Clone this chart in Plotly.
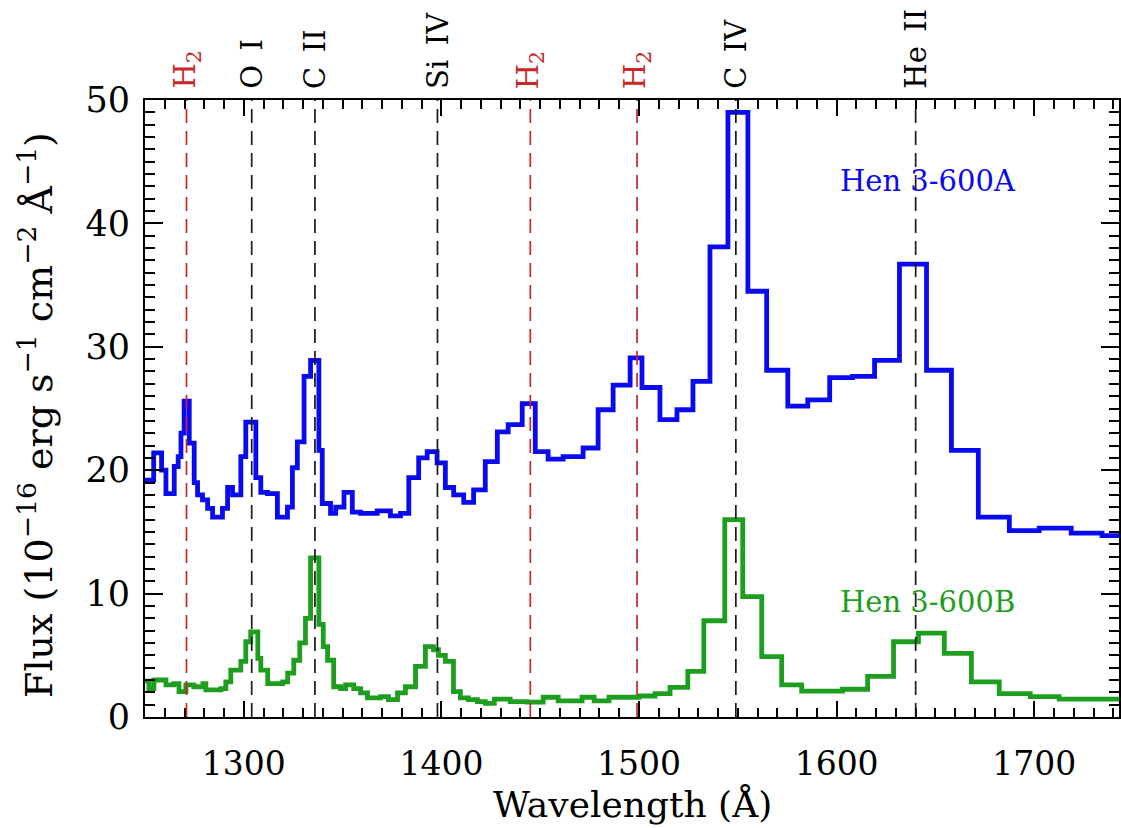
import plotly.graph_objects as go

# ---- data ----
blue_edges = [1250, 1254.4, 1258.4, 1260.6, 1264.8, 1266.8, 1268.2, 1269.8, 1272.4, 1274.9,
              1276.6, 1279.1, 1281.7, 1284.2, 1289.2, 1291.8, 1294.3, 1298.5, 1301.0, 1306.1,
              1308.6, 1312.0, 1317.0, 1322.1, 1324.6, 1327.1, 1330.5, 1333.8, 1338.0, 1339.7,
              1343.9, 1346.5, 1350.7, 1354.9, 1359.1, 1367.5, 1374.2, 1379.3, 1383.5, 1388.5,
              1392.8, 1397.8, 1402.0, 1406.2, 1411.3, 1416.3, 1422.2, 1428.3, 1433.8, 1440.9,
              1447.5, 1454.0, 1461.6, 1471.7, 1479.3, 1486.9, 1495.5, 1501.5, 1510.6, 1519.2,
              1527.3, 1535.9, 1545.0, 1555.1, 1564.6, 1575.3, 1585.4, 1596.5, 1608.1, 1619.2,
              1631.8, 1645.5, 1658.1, 1671.7, 1687.4, 1702.5, 1718.7, 1734.3, 1750]
blue_flux = [19.2, 21.4, 20.0, 18.1, 20.3, 21.1, 23.0, 25.6, 22.2, 19.0,
             18.0, 17.6, 16.9, 16.2, 16.9, 18.6, 18.0, 21.1, 23.9, 19.4,
             18.2, 18.1, 16.2, 17.0, 20.2, 22.3, 27.6, 28.9, 21.6, 17.3,
             16.5, 17.0, 18.2, 16.6, 16.5, 16.7, 16.3, 16.5, 19.4, 21.0,
             21.5, 20.6, 18.6, 18.0, 17.4, 18.4, 20.7, 23.1, 23.7, 25.4,
             21.5, 20.9, 21.1, 21.8, 24.9, 26.9, 29.1, 26.7, 24.1, 24.9,
             27.2, 38.1, 49.0, 34.5, 28.1, 25.2, 25.7, 27.5, 27.6, 28.9,
             36.7, 28.1, 21.6, 16.2, 15.1, 15.3, 14.9, 14.7]

green_edges = [1250, 1252.0, 1254.5, 1260.6, 1264.6, 1267.2, 1270.7, 1274.7, 1279.3, 1280.8,
               1288.4, 1290.9, 1293.4, 1298.5, 1301.0, 1303.5, 1307.1, 1308.6, 1312.1, 1319.7,
               1322.2, 1325.3, 1328.3, 1331.2, 1333.8, 1338.0, 1340.2, 1342.4, 1345.5, 1349.0,
               1351.5, 1355.6, 1359.1, 1362.6, 1369.2, 1373.2, 1377.8, 1381.8, 1386.9, 1391.9,
               1396.0, 1398.5, 1402.0, 1406.1, 1409.6, 1413.6, 1418.2, 1422.2, 1426.8, 1434.8,
               1443.4, 1451.5, 1459.1, 1465.2, 1471.2, 1477.3, 1484.8, 1492.4, 1500.0, 1508.1,
               1515.7, 1524.7, 1532.8, 1543.4, 1552.5, 1562.1, 1572.2, 1582.3, 1592.4, 1603.0,
               1615.7, 1628.8, 1641.4, 1654.5, 1668.2, 1682.3, 1698.0, 1712.6, 1727.8, 1750]
green_flux = [2.9, 2.3, 3.0, 2.6, 2.7, 2.05, 2.6, 2.45, 2.7, 2.2,
              2.3, 2.85, 3.8, 4.5, 6.1, 6.9, 4.75, 3.8, 2.7, 2.85,
              3.55, 4.6, 6.0, 8.0, 12.9, 7.5, 5.7, 4.6, 2.45, 2.3,
              2.6, 2.3, 1.95, 1.55, 1.65, 1.4, 1.95, 2.45, 4.1, 5.7,
              5.45, 5.0, 4.5, 2.05, 1.55, 1.4, 1.25, 1.1, 1.45, 1.25,
              1.2, 1.6, 1.3, 1.3, 1.6, 1.3, 1.6, 1.6, 1.7, 1.9,
              2.4, 3.7, 7.8, 16.0, 9.75, 4.9, 2.6, 2.1, 2.1, 2.25,
              3.3, 6.1, 6.8, 5.15, 2.85, 1.9, 1.65, 1.45, 1.45]

line_waves = [1271, 1304, 1336, 1398, 1445, 1499, 1549, 1640]
line_labels = ["H<sub>2</sub>", "O I", "C II", "Si IV", "H<sub>2</sub>", "H<sub>2</sub>", "C IV", "He II"]
line_is_h2 = [True, False, False, False, True, True, False, False]

series_names = ["Hen 3-600A", "Hen 3-600B"]

# ---- styling ----
FONT = "DejaVu Serif"
BLUE = "#0a0af0"
GREEN = "#1e9e1e"
RED = "#c82828"

fig = go.Figure()
fig.add_trace(go.Scatter(x=blue_edges, y=blue_flux + [blue_flux[-1]], mode="lines",
                         line=dict(color=BLUE, width=4.8, shape="hv"), name=series_names[0]))
fig.add_trace(go.Scatter(x=green_edges, y=green_flux + [green_flux[-1]], mode="lines",
                         line=dict(color=GREEN, width=4.8, shape="hv"), name=series_names[1]))

for w, lab, h2 in zip(line_waves, line_labels, line_is_h2):
    col = RED if h2 else "#1a1a1a"
    fig.add_shape(type="line", xref="x", yref="paper", x0=w, x1=w, y0=0, y1=1,
                  line=dict(color=col, width=1.7, dash="14px,8px"))
    fig.add_annotation(x=w, y=1, xref="x", yref="paper", text=lab.replace(" ", "\u2002"),
                       showarrow=False, textangle=-90, xanchor="center", yanchor="bottom",
                       yshift=9, font=dict(family=FONT, size=29, color=RED if h2 else "black"))

fig.add_annotation(x=1600.5, y=43.4, xref="x", yref="y", text=series_names[0], showarrow=False,
                   xanchor="left", yanchor="middle", font=dict(family=FONT, size=29, color=BLUE))
fig.add_annotation(x=1600.5, y=9.3, xref="x", yref="y", text=series_names[1], showarrow=False,
                   xanchor="left", yanchor="middle", font=dict(family=FONT, size=29, color=GREEN))

# axis titles
fig.add_annotation(x=0.5, y=-0.142, xref="paper", yref="paper", text="Wavelength (Å)",
                   showarrow=False, xanchor="center", yanchor="middle",
                   font=dict(family=FONT, size=36, color="black"))
fig.add_annotation(x=-0.1127, y=0.49, xref="paper", yref="paper",
                   text="Flux (10<sup>−16</sup> erg s<sup>−1</sup> cm<sup>−2</sup> Å<sup>−1</sup>)",
                   showarrow=False, textangle=-90, xanchor="center", yanchor="middle",
                   font=dict(family=FONT, size=38, color="black"))

fig.update_xaxes(range=[1250, 1742.9], dtick=100, tick0=1300, ticks="inside", ticklen=16,
                 tickwidth=1.5, tickcolor="black", mirror="ticks", showline=True,
                 linecolor="black", linewidth=2, showgrid=False, zeroline=False,
                 tickfont=dict(family=FONT, size=33, color="black"), ticklabelstandoff=16,
                 minor=dict(ticks="inside", dtick=10, ticklen=9, tickwidth=1.5,
                            tickcolor="black", showgrid=False))
fig.update_yaxes(range=[0, 50], dtick=10, ticks="inside", ticklen=18,
                 tickwidth=1.5, tickcolor="black", mirror="ticks", showline=True,
                 linecolor="black", linewidth=2, showgrid=False, zeroline=False,
                 tickfont=dict(family=FONT, size=35, color="black"), ticklabelstandoff=6,
                 minor=dict(ticks="inside", dtick=1, ticklen=10, tickwidth=1.5,
                            tickcolor="black", showgrid=False))

fig.update_layout(width=1121, height=828, paper_bgcolor="white", plot_bgcolor="white",
                  showlegend=False, margin=dict(l=145, r=0, t=100, b=111))

fig.write_html("out.html")
